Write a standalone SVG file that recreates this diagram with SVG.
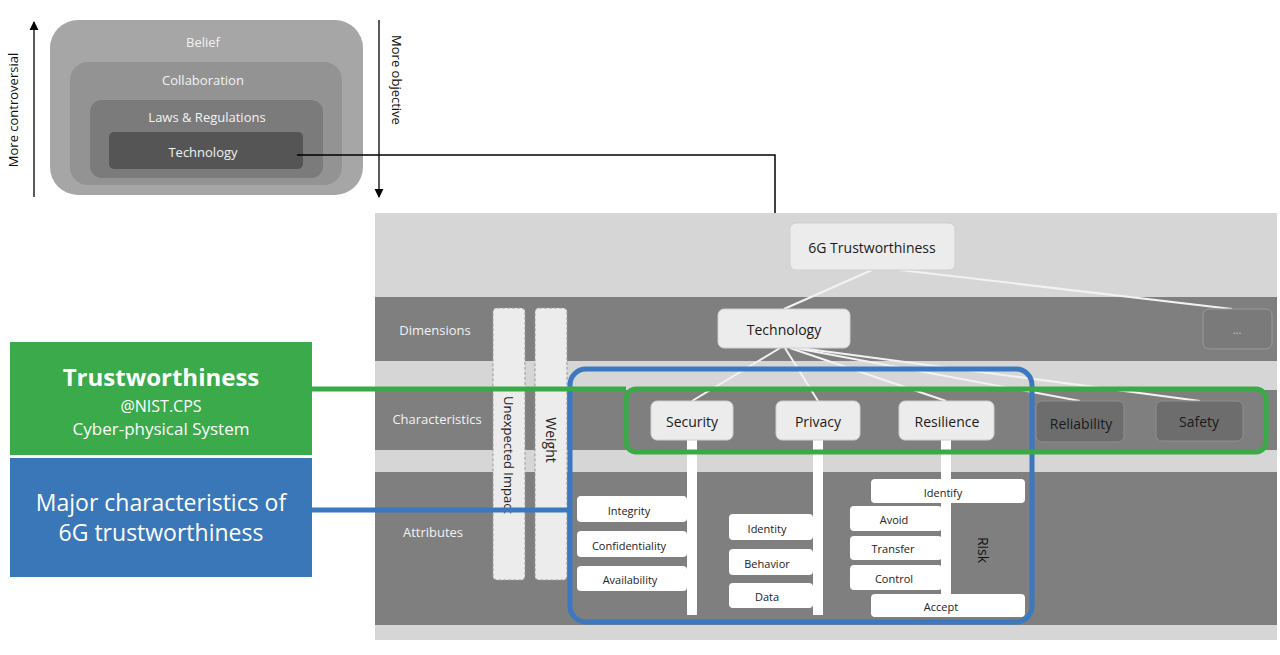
<svg xmlns="http://www.w3.org/2000/svg" width="1280" height="655" viewBox="0 0 1280 655">
<defs>
<style>
text{font-family:"Open Sans","Noto Sans","Liberation Sans",sans-serif;text-anchor:middle;dominant-baseline:central}
.lw{fill:#f2f2f2;font-size:13px}
.band{fill:#7f7f80}
.ch{fill:#ececec;stroke:#cfcfcf}
.chd{fill:#6d6d6e;stroke:#8f8f8f}
.ct{font-size:14px;fill:#1a1a1a}
.ab{fill:#ffffff}
.at{font-size:11px;fill:#222}
.tl{stroke:#f2f2f2;stroke-width:2;fill:none}
.vl{fill:#ffffff}
</style>
<marker id="ar" viewBox="0 0 10 10" refX="9" refY="5" markerWidth="7" markerHeight="7" orient="auto"><path d="M0,0 L10,5 L0,10 z" fill="#000"/></marker>
</defs>
<rect width="1280" height="655" fill="#ffffff"/>
<g id="layers">
<rect x="50" y="20" width="313" height="175" rx="28" fill="#a6a6a6"/>
<text x="203" y="42" class="lw">Belief</text>
<rect x="70" y="62" width="272" height="123" rx="18" fill="#939393"/>
<text x="203" y="80" class="lw">Collaboration</text>
<rect x="90" y="100" width="233" height="78" rx="12" fill="#7b7b7b"/>
<text x="207" y="117" class="lw">Laws &amp; Regulations</text>
<rect x="109" y="132" width="194" height="37" rx="5" fill="#555556"/>
<text x="203" y="152" class="lw">Technology</text>
</g>
<g id="axes">
<line x1="34" y1="197" x2="34" y2="22" stroke="#000" stroke-width="1.3" marker-end="url(#ar)"/>
<text transform="translate(13,110) rotate(-90)" font-size="13" fill="#111">More controversial</text>
<line x1="379" y1="20" x2="379" y2="197" stroke="#000" stroke-width="1.3" marker-end="url(#ar)"/>
<text transform="translate(397,80) rotate(90)" font-size="13" fill="#111">More objective</text>
</g>
<g id="panel">
<rect x="375" y="213" width="902" height="427" fill="#d6d6d6"/>
<rect x="375" y="297" width="902" height="64" class="band"/>
<rect x="375" y="390" width="902" height="60" class="band"/>
<rect x="375" y="472" width="902" height="153" class="band"/>
<text x="435" y="330" class="lw" font-size="14">Dimensions</text>
<text x="437" y="419" class="lw" font-size="14">Characteristics</text>
<text x="433" y="532" class="lw" font-size="14">Attributes</text>
<rect x="493" y="308" width="32" height="272" rx="4" fill="#ececec" stroke="#999" stroke-dasharray="3,2"/>
<text transform="translate(509,455) rotate(90)" font-size="13" fill="#222">Unexpected Impact</text>
<rect x="535" y="308" width="32" height="272" rx="4" fill="#ececec" stroke="#999" stroke-dasharray="3,2"/>
<text transform="translate(551,440) rotate(90)" font-size="14" fill="#222">Weight</text>
</g>
<g id="connectors">
<polyline points="297,155 775,155 775,213" fill="none" stroke="#000" stroke-width="1.5"/>
<line x1="872" y1="270" x2="784" y2="309" class="tl"/>
<line x1="900" y1="270" x2="1232" y2="309" class="tl"/>
<line x1="780" y1="348" x2="692" y2="401" class="tl"/>
<line x1="785" y1="348" x2="818" y2="401" class="tl"/>
<line x1="790" y1="348" x2="946" y2="401" class="tl"/>
<line x1="795" y1="348" x2="1080" y2="401" class="tl"/>
<line x1="800" y1="348" x2="1200" y2="401" class="tl"/>
<rect x="687" y="440" width="10" height="175" class="vl"/>
<rect x="813" y="440" width="10" height="175" class="vl"/>
<rect x="941" y="440" width="10" height="162" class="vl"/>
</g>
<g id="top"><rect x="790" y="223" width="165" height="47" rx="6" class="ch"/><text x="872" y="247" class="ct">6G Trustworthiness</text></g>
<g id="tech"><rect x="718" y="309" width="132" height="39" rx="6" class="ch"/><text x="784" y="329" class="ct">Technology</text></g>
<g id="more"><rect x="1203" y="309" width="69" height="40" rx="6" fill="#7a7a7b" stroke="#9a9a9a"/><text x="1237" y="329" font-size="11" fill="#ccc">...</text></g>
<g id="security"><rect x="651" y="401" width="82" height="39" rx="6" class="ch"/><text x="692" y="421" class="ct">Security</text></g>
<g id="privacy"><rect x="776" y="401" width="84" height="39" rx="6" class="ch"/><text x="818" y="421" class="ct">Privacy</text></g>
<g id="resilience"><rect x="899" y="401" width="95" height="39" rx="6" class="ch"/><text x="947" y="421" class="ct">Resilience</text></g>
<g id="reliability"><rect x="1036" y="401" width="88" height="41" rx="6" class="chd"/><text x="1081" y="423" class="ct">Reliability</text></g>
<g id="safety"><rect x="1156" y="401" width="87" height="40" rx="6" class="chd"/><text x="1199" y="421" class="ct">Safety</text></g>
<g id="attrs">
<rect x="577" y="496" width="110" height="26" rx="4" class="ab"/><text x="629" y="510" class="at">Integrity</text>
<rect x="577" y="531" width="110" height="26" rx="4" class="ab"/><text x="629" y="545" class="at">Confidentiality</text>
<rect x="577" y="566" width="110" height="25" rx="4" class="ab"/><text x="630" y="579" class="at">Availability</text>
<rect x="729" y="514" width="84" height="26" rx="4" class="ab"/><text x="767" y="528" class="at">Identity</text>
<rect x="729" y="549" width="84" height="26" rx="4" class="ab"/><text x="767" y="563" class="at">Behavior</text>
<rect x="729" y="583" width="84" height="25" rx="4" class="ab"/><text x="767" y="596" class="at">Data</text>
<rect x="871" y="479" width="154" height="24" rx="4" class="ab"/><text x="943" y="492" class="at">Identify</text>
<rect x="850" y="506" width="92" height="25" rx="4" class="ab"/><text x="894" y="519" class="at">Avoid</text>
<rect x="850" y="536" width="92" height="24" rx="4" class="ab"/><text x="893" y="548" class="at">Transfer</text>
<rect x="850" y="565" width="92" height="25" rx="4" class="ab"/><text x="894" y="578" class="at">Control</text>
<rect x="871" y="594" width="154" height="23" rx="4" class="ab"/><text x="941" y="606" class="at">Accept</text>
<text transform="translate(983,550) rotate(90)" font-size="14" fill="#111">Risk</text>
</g>
<g id="highlights">
<rect x="570" y="369" width="462" height="253" rx="16" fill="none" stroke="#3b78bf" stroke-width="5"/>
<rect x="626" y="389" width="640" height="63" rx="10" fill="none" stroke="#3aaa47" stroke-width="5"/>
<line x1="312" y1="389" x2="626" y2="389" stroke="#3aaa47" stroke-width="5"/>
<line x1="312" y1="510" x2="570" y2="510" stroke="#3b78bf" stroke-width="5"/>
</g>
<g id="trust"><rect x="10" y="342" width="302" height="113" fill="#3aaa4a"/>
<text x="161" y="376" font-size="24" font-weight="bold" fill="#fff">Trustworthiness</text>
<text x="161" y="406" font-size="16" fill="#fff">@NIST.CPS</text>
<text x="161" y="428" font-size="17" fill="#fff">Cyber-physical System</text></g>
<g id="major"><rect x="10" y="458" width="302" height="119" fill="#3a77b9"/>
<text x="161" y="502" font-size="23" fill="#fff">Major characteristics of</text>
<text x="161" y="532" font-size="23" fill="#fff">6G trustworthiness</text></g>
</svg>
